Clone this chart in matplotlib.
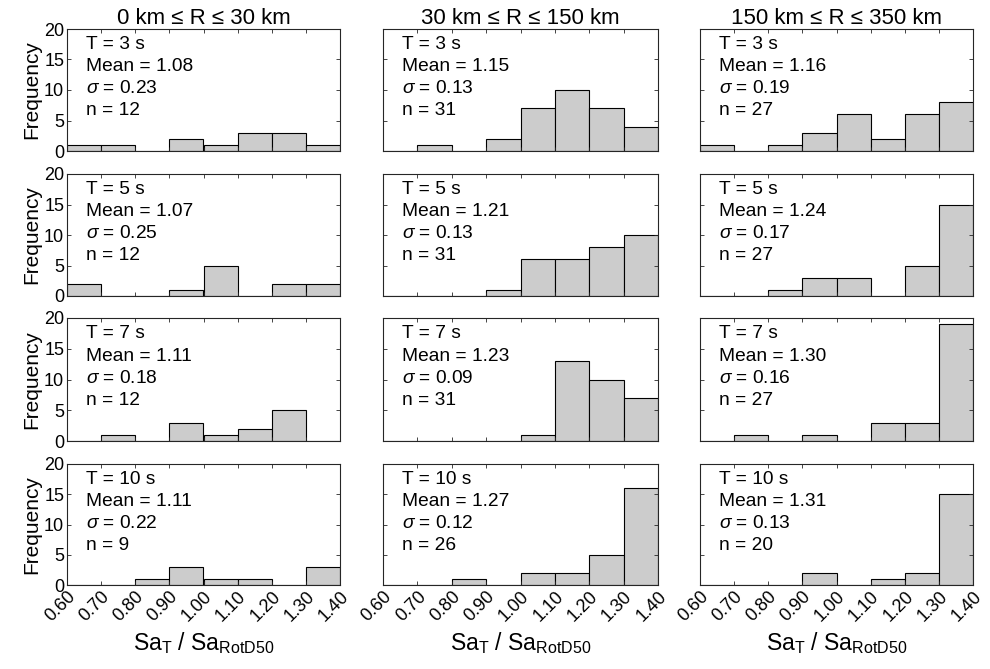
import matplotlib
matplotlib.use("Agg")
import matplotlib.pyplot as plt
import numpy as np

plt.rcParams['font.family'] = ['Liberation Sans', 'DejaVu Sans']
plt.rcParams['mathtext.fontset'] = 'custom'
plt.rcParams['mathtext.rm'] = 'Liberation Sans'
plt.rcParams['mathtext.it'] = 'Liberation Sans:italic'

bin_edges = [0.60, 0.70, 0.80, 0.90, 1.00, 1.10, 1.20, 1.30, 1.40]
periods = [3, 5, 7, 10]
col_titles = ["0 km \u2264 R \u2264 30 km", "30 km \u2264 R \u2264 150 km", "150 km \u2264 R \u2264 350 km"]

# counts[row][col]
counts_T3 = [[1, 1, 0, 2, 1, 3, 3, 1], [0, 1, 0, 2, 7, 10, 7, 4], [1, 0, 1, 3, 6, 2, 6, 8]]
counts_T5 = [[2, 0, 0, 1, 5, 0, 2, 2], [0, 0, 0, 1, 6, 6, 8, 10], [0, 0, 1, 3, 3, 0, 5, 15]]
counts_T7 = [[0, 1, 0, 3, 1, 2, 5, 0], [0, 0, 0, 0, 1, 13, 10, 7], [0, 1, 0, 1, 0, 3, 3, 19]]
counts_T10 = [[0, 0, 1, 3, 1, 1, 0, 3], [0, 0, 1, 0, 2, 2, 5, 16], [0, 0, 0, 2, 0, 1, 2, 15]]
counts = [counts_T3, counts_T5, counts_T7, counts_T10]

means = [[1.08, 1.15, 1.16], [1.07, 1.21, 1.24], [1.11, 1.23, 1.30], [1.11, 1.27, 1.31]]
sigmas = [[0.23, 0.13, 0.19], [0.25, 0.13, 0.17], [0.18, 0.09, 0.16], [0.22, 0.12, 0.13]]
ns = [[12, 31, 27], [12, 31, 27], [12, 31, 27], [9, 26, 20]]

W, H = 990, 669
fig = plt.figure(figsize=(W / 100, H / 100), dpi=100)

rows_px = [(29, 151), (174, 296), (318, 441), (464, 585)]
cols_px = [(67, 340), (383, 658), (700, 973)]

edge_col = (0.15, 0.15, 0.15)
centers = [(bin_edges[i] + bin_edges[i + 1]) / 2 for i in range(len(bin_edges) - 1)]
widths = [bin_edges[i + 1] - bin_edges[i] for i in range(len(bin_edges) - 1)]

for r in range(4):
    for c in range(3):
        t, b = rows_px[r]
        l, rr = cols_px[c]
        ax = fig.add_axes([l / W, 1 - b / H, (rr - l) / W, (b - t) / H])
        ax.bar(centers, counts[r][c], width=widths, color=(0.8, 0.8, 0.8),
               edgecolor='black', linewidth=0.8)
        ax.set_xlim(0.6, 1.4)
        ax.set_ylim(0, 20)
        ax.set_xticks(bin_edges)
        ax.set_yticks([0, 5, 10, 15, 20])
        ax.tick_params(direction='in', top=True, right=True, length=3,
                       width=0.6, color=edge_col, labelsize=13, pad=2)
        for s in ax.spines.values():
            s.set_color(edge_col)
            s.set_linewidth(0.8)
        if r == 3:
            ax.set_xticklabels([f"{v:.2f}" for v in bin_edges], rotation=45,
                               ha='right', va='top', rotation_mode='anchor')
            ax.set_xlabel(r"Sa$_{\mathrm{T}}$ / Sa$_{\mathrm{RotD50}}$", fontsize=16.5, labelpad=4)
        else:
            ax.set_xticklabels([])
        if c == 0:
            ax.set_ylabel("Frequency", fontsize=15, labelpad=2)
        else:
            ax.set_yticklabels([])
        if r == 0:
            ax.set_title(col_titles[c], fontsize=16, pad=3)
        lines = [f"T = {periods[r]} s", f"Mean = {means[r][c]:.2f}",
                 rf"$\sigma$ = {sigmas[r][c]:.2f}", f"n = {ns[r][c]}"]
        for k, txt in enumerate(lines):
            ax.text(0.07, 0.87 - 0.18 * k, txt, transform=ax.transAxes,
                    fontsize=13.8, va='center', ha='left', color='black')

fig.savefig("out.png", dpi=100)
